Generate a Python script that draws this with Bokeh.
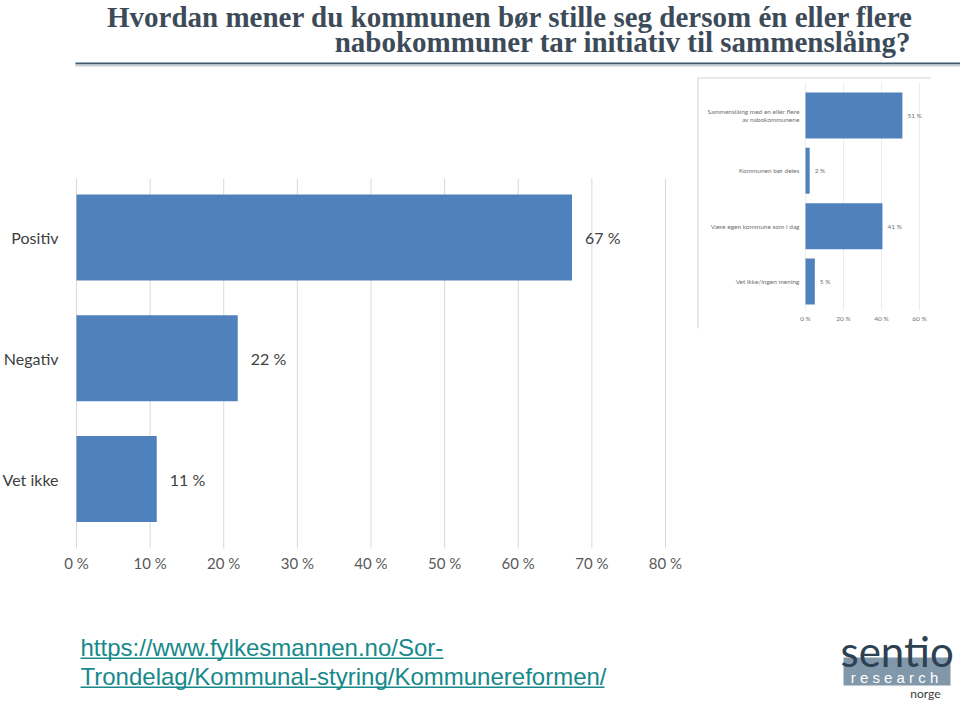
from bokeh.plotting import figure
from bokeh.models import Range1d, Label, BoxAnnotation, ColumnDataSource
from bokeh.core.properties import value
from bokeh.embed import file_html
from bokeh.resources import INLINE

# ---------------- data ----------------
categories = ["Positiv", "Negativ", "Vet ikke"]
shares = [67.3, 21.9, 10.9]
value_labels = ["67 %", "22 %", "11 %"]
x_ticks = [0, 10, 20, 30, 40, 50, 60, 70, 80]
x_tick_labels = ["0 %", "10 %", "20 %", "30 %", "40 %", "50 %", "60 %", "70 %", "80 %"]

inset_categories = ["Sammenslåing med en eller flere\nav nabokommunene",
                    "Kommunen bør deles",
                    "Være egen kommune som i dag",
                    "Vet ikke/ingen mening"]
inset_shares = [51.0, 2.2, 40.5, 4.9]
inset_value_labels = ["51 %", "2 %", "41 %", "5 %"]
inset_ticks = [0, 20, 40, 60]
inset_tick_labels = ["0 %", "20 %", "40 %", "60 %"]

title_lines = ["Hvordan mener du kommunen bør stille seg dersom én eller flere",
               "nabokommuner tar initiativ til sammenslåing?"]
url_lines = ["https://www.fylkesmannen.no/Sor-",
             "Trondelag/Kommunal-styring/Kommunereformen/"]
logo_texts = ["sentio", "r e s e a r c h", "norge"]

# ---------------- layout (page pixels) ----------------
W, H = 960, 706
FRAME_L, FRAME_R, FRAME_T, FRAME_B = 0, 960, 0, 706

def sx(rx):          # screen x
    return rx - FRAME_L
def sy(ry):          # screen y (upwards from frame bottom)
    return FRAME_B - ry

# main scale: 0 % at x=76, 7.3625 px per %
M0, MPX = 76.0, 7.3625
m_x0 = (FRAME_L - M0) / MPX
m_x1 = (FRAME_R - M0) / MPX
MC0, MSTEP = 237.0, 120.75
m_y_top = 1 + (FRAME_T - MC0) / MSTEP
m_y_bot = 1 + (FRAME_B - MC0) / MSTEP

# inset scale: 0 % at x=805, 1.9 px per %
I0, IPX = 805.0, 1.9
i_x0 = (FRAME_L - I0) / IPX
i_x1 = (FRAME_R - I0) / IPX
IC0, ISTEP = 115.0, 55.33
i_y_top = 1 + (FRAME_T - IC0) / ISTEP
i_y_bot = 1 + (FRAME_B - IC0) / ISTEP

def iy(ry):
    return 1 + (ry - IC0) / ISTEP
def my(ry):
    return 1 + (ry - MC0) / MSTEP

BLUE = "#4f81bd"
FONT = "Lato"

p = figure(width=W, height=H, output_backend="svg", toolbar_location=None,
           x_range=Range1d(m_x0, m_x1), y_range=Range1d(m_y_bot, m_y_top),
           x_axis_location=None, y_axis_location=None,
           min_border_left=0, min_border_right=0, min_border_top=0, min_border_bottom=0,
           title=None)
p.extra_x_ranges = {"ix": Range1d(i_x0, i_x1)}
p.extra_y_ranges = {"iy": Range1d(i_y_bot, i_y_top)}
p.outline_line_color = None
p.grid.visible = False
p.background_fill_color = "white"
p.border_fill_color = "white"

def box(l, r, t, b, color):
    p.add_layout(BoxAnnotation(left=sx(l), right=sx(r), top=sy(t), bottom=sy(b),
                               left_units="screen", right_units="screen",
                               top_units="screen", bottom_units="screen",
                               fill_color=color, fill_alpha=1, line_color=None,
                               level="overlay"))

def label(rx, ry, text, align, font, size, color, style="normal"):
    # ry is the vertical middle of the text line
    p.add_layout(Label(x=sx(rx), y=sy(ry), x_units="screen", y_units="screen",
                       text=text, text_align=align, text_baseline="middle",
                       text_font=font, text_font_size=size, text_color=color,
                       text_font_style=style, level="overlay"))

# ---- main chart ----
ypos = [i + 1 for i in range(len(categories))]
src = ColumnDataSource(dict(y=ypos, v=shares, lab=value_labels, cat=categories,
                            zero=[0] * len(categories)))
p.segment(x0=x_ticks, x1=x_ticks, y0=[my(178)] * len(x_ticks), y1=[my(548)] * len(x_ticks),
          line_color="#d9d9d9", line_width=1)
p.hbar(y="y", left=0, right="v", height=86 / MSTEP, source=src, fill_color=BLUE,
       line_color=None)
p.text(x="v", y="y", text="lab", source=src, x_offset=13, text_align="left",
       text_baseline="middle", text_font=value(FONT), text_font_size="16px",
       text_color="#404040")
p.text(x="zero", y="y", text="cat", source=src, x_offset=-18, text_align="right",
       text_baseline="middle", text_font=value(FONT), text_font_size="16px",
       text_color="#404040")
p.text(x=x_ticks, y=[my(562)] * len(x_ticks), text=x_tick_labels, text_align="center",
       text_baseline="middle", text_font=value(FONT), text_font_size="15px",
       text_color="#595959")

# ---- inset chart ----
iypos = [i + 1 for i in range(len(inset_categories))]
isrc = ColumnDataSource(dict(y=iypos, v=inset_shares, lab=inset_value_labels,
                             cat=inset_categories, zero=[0] * len(inset_categories)))
p.segment(x0=inset_ticks, x1=inset_ticks, y0=[iy(82)] * 4, y1=[iy(310)] * 4,
          line_color="#ececec", line_width=1, x_range_name="ix", y_range_name="iy")
p.hbar(y="y", left=0, right="v", height=46 / ISTEP, source=isrc, fill_color=BLUE,
       line_color=None, x_range_name="ix", y_range_name="iy")
p.text(x="v", y="y", text="lab", source=isrc, x_offset=5, text_align="left",
       text_baseline="middle", text_font=value(FONT), text_font_size="6.5px",
       text_color="#707070", x_range_name="ix", y_range_name="iy")
p.text(x="zero", y="y", text="cat", source=isrc, x_offset=-6, text_align="right",
       text_baseline="middle", text_font=value(FONT), text_font_size="6.5px",
       text_color="#707070", x_range_name="ix", y_range_name="iy")
p.text(x=inset_ticks, y=[iy(318)] * 4, text=inset_tick_labels, text_align="center",
       text_baseline="middle", text_font=value(FONT), text_font_size="6.5px",
       text_color="#707070", x_range_name="ix", y_range_name="iy")
# inset picture border
box(697, 698, 78, 328, "#cfcfcf")
box(697, 930, 77, 78, "#cfcfcf")

# ---- title ----
TITLE_C = "#3d4b59"
label(913, 16, title_lines[0], "right", "Liberation Serif", "29px", TITLE_C, "bold")
label(911, 41, title_lines[1], "right", "Liberation Serif", "29px", TITLE_C, "bold")
box(75, 960, 62, 64, "#3f5a70")
box(75, 960, 64, 66, "#c5d0da")

# ---- url ----
URL_C = "#17898a"
for line, mid, base, right in zip(url_lines, [647, 676], [655, 684], [443, 604]):
    label(80, mid, line, "left", "Liberation Sans", "24px", URL_C)
    box(80, right, base + 2, base + 3.5, URL_C)

# ---- logo ----
box(843, 950, 657, 685, "#8198aa")
label(840, 650, logo_texts[0], "left", "Lato", "42px", "#2e4152")
label(894, 677, logo_texts[1], "center", "Liberation Sans", "15px", "white")
label(940, 693, logo_texts[2], "right", "Lato", "12px", "#3a3a3a")

open("out.html", "w").write(file_html(p, INLINE))
